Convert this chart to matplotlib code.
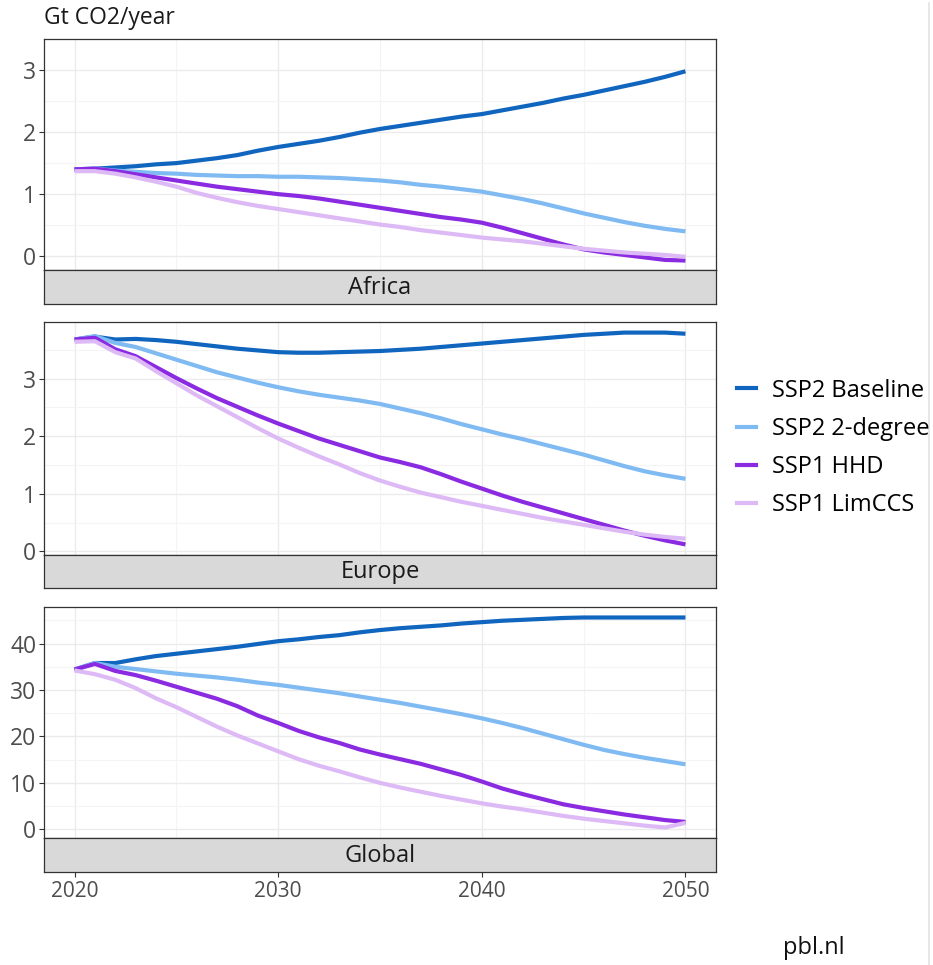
import matplotlib
matplotlib.use("Agg")
import matplotlib.pyplot as plt
from matplotlib.lines import Line2D
import numpy as np

plt.rcParams['font.family'] = ['Open Sans', 'DejaVu Sans']

years = list(range(2020, 2051))
regions = ["Africa", "Europe", "Global"]
scenarios = ["SSP2 Baseline", "SSP2 2-degree", "SSP1 HHD", "SSP1 LimCCS"]
colours = ["#1065BF", "#80BAF2", "#8A2BE2", "#DDBAF5"]

# Africa
africa_baseline = [1.40, 1.41, 1.43, 1.45, 1.48, 1.50, 1.54, 1.58, 1.63, 1.70, 1.76,
                   1.81, 1.86, 1.92, 1.99, 2.05, 2.10, 2.15, 2.20, 2.25, 2.29,
                   2.35, 2.41, 2.47, 2.54, 2.60, 2.67, 2.74, 2.81, 2.89, 2.98]
africa_2deg = [1.40, 1.41, 1.38, 1.36, 1.34, 1.33, 1.31, 1.30, 1.29, 1.29, 1.28,
               1.28, 1.27, 1.26, 1.24, 1.22, 1.19, 1.15, 1.12, 1.08, 1.04,
               0.98, 0.92, 0.85, 0.77, 0.69, 0.62, 0.55, 0.49, 0.44, 0.40]
africa_hhd = [1.40, 1.41, 1.37, 1.32, 1.27, 1.22, 1.17, 1.12, 1.08, 1.04, 1.00,
              0.97, 0.93, 0.88, 0.83, 0.78, 0.73, 0.68, 0.63, 0.59, 0.54,
              0.46, 0.37, 0.28, 0.19, 0.11, 0.06, 0.02, -0.02, -0.06, -0.07]
africa_limccs = [1.37, 1.37, 1.33, 1.27, 1.20, 1.12, 1.02, 0.94, 0.87, 0.81, 0.76,
                 0.71, 0.66, 0.61, 0.56, 0.51, 0.47, 0.42, 0.38, 0.34, 0.30,
                 0.27, 0.24, 0.20, 0.16, 0.12, 0.09, 0.06, 0.04, 0.02, -0.01]

# Europe
europe_baseline = [3.68, 3.73, 3.68, 3.69, 3.67, 3.64, 3.60, 3.56, 3.52, 3.49, 3.46,
                   3.45, 3.45, 3.46, 3.47, 3.48, 3.50, 3.52, 3.55, 3.58, 3.61,
                   3.64, 3.67, 3.70, 3.73, 3.76, 3.78, 3.80, 3.80, 3.80, 3.78]
europe_2deg = [3.68, 3.74, 3.62, 3.55, 3.44, 3.33, 3.22, 3.11, 3.02, 2.93, 2.85,
               2.78, 2.72, 2.67, 2.62, 2.56, 2.48, 2.40, 2.31, 2.21, 2.12,
               2.03, 1.95, 1.86, 1.77, 1.68, 1.58, 1.48, 1.39, 1.32, 1.26]
europe_hhd = [3.68, 3.71, 3.51, 3.39, 3.20, 3.01, 2.83, 2.66, 2.51, 2.36, 2.22,
              2.09, 1.96, 1.85, 1.74, 1.63, 1.55, 1.46, 1.34, 1.21, 1.09,
              0.97, 0.86, 0.76, 0.66, 0.56, 0.46, 0.36, 0.27, 0.19, 0.12]
europe_limccs = [3.64, 3.65, 3.46, 3.35, 3.13, 2.92, 2.71, 2.52, 2.33, 2.14, 1.96,
                 1.80, 1.65, 1.51, 1.36, 1.23, 1.12, 1.02, 0.94, 0.86, 0.79,
                 0.72, 0.65, 0.58, 0.52, 0.46, 0.40, 0.34, 0.29, 0.25, 0.22]

# Global
global_baseline = [34.4, 35.8, 35.8, 36.6, 37.3, 37.8, 38.3, 38.8, 39.3, 39.9, 40.5,
                   40.9, 41.4, 41.8, 42.4, 42.9, 43.3, 43.6, 43.9, 44.3, 44.6,
                   44.9, 45.1, 45.3, 45.5, 45.6, 45.6, 45.6, 45.6, 45.6, 45.6]
global_2deg = [34.4, 35.8, 35.0, 34.5, 34.0, 33.5, 33.1, 32.7, 32.2, 31.6, 31.1,
               30.5, 29.9, 29.3, 28.6, 27.9, 27.2, 26.4, 25.6, 24.8, 23.9,
               22.9, 21.8, 20.6, 19.4, 18.2, 17.1, 16.2, 15.4, 14.7, 14.0]
global_hhd = [34.4, 35.6, 34.1, 33.2, 32.0, 30.7, 29.4, 28.1, 26.5, 24.5, 22.9,
              21.2, 19.8, 18.6, 17.2, 16.1, 15.1, 14.1, 12.9, 11.7, 10.3,
              8.8, 7.6, 6.5, 5.4, 4.6, 3.9, 3.2, 2.6, 2.0, 1.6]
global_limccs = [34.2, 33.4, 32.2, 30.4, 28.2, 26.3, 24.2, 22.1, 20.2, 18.5, 16.8,
                 15.1, 13.7, 12.5, 11.2, 10.0, 9.0, 8.1, 7.2, 6.4, 5.6,
                 4.9, 4.3, 3.6, 2.9, 2.3, 1.8, 1.3, 0.8, 0.4, 1.4]

series = {
    "Africa": [africa_baseline, africa_2deg, africa_hhd, africa_limccs],
    "Europe": [europe_baseline, europe_2deg, europe_hhd, europe_limccs],
    "Global": [global_baseline, global_2deg, global_hhd, global_limccs],
}
y_major = {"Africa": [0, 1, 2, 3], "Europe": [0, 1, 2, 3], "Global": [0, 10, 20, 30, 40]}
y_minor = {"Africa": np.arange(0.5, 4, 1), "Europe": np.arange(0.5, 4, 1), "Global": np.arange(5, 50, 10)}
x_major = [2020, 2030, 2040, 2050]
x_minor = [2025, 2035, 2045]

W, H = 933, 965
fig = plt.figure(figsize=(W / 100, H / 100), dpi=100)


def box(l, t, r, b):
    return [l / W, 1 - b / H, (r - l) / W, (b - t) / H]


# pixel layout of the facets: (panel top, panel bottom, strip bottom)
rows = [(39, 270, 304), (322, 555, 588), (607, 838, 872)]
left, right = 44, 716
border = "#333333"

xlo, xhi = years[0] - 0.05 * (years[-1] - years[0]), years[-1] + 0.05 * (years[-1] - years[0])

for i, reg in enumerate(regions):
    top, bot, sbot = rows[i]
    ax = fig.add_axes(box(left, top, right, bot))
    strip = fig.add_axes(box(left, bot, right, sbot), sharex=ax)

    allv = np.concatenate(series[reg])
    pad = 0.05 * (allv.max() - allv.min())
    ax.set_ylim(allv.min() - pad, allv.max() + pad)
    ax.set_xlim(xlo, xhi)

    ax.set_yticks(y_major[reg])
    ax.set_yticks(y_minor[reg], minor=True)
    ax.set_xticks(x_major)
    ax.set_xticks(x_minor, minor=True)
    ax.grid(which="major", color="#EBEBEB", lw=1.0)
    ax.grid(which="minor", color="#F4F4F4", lw=0.8)
    ax.set_axisbelow(True)

    for vals, col in zip(series[reg], colours):
        ax.plot(years, vals, color=col, lw=3.0, solid_capstyle="butt")

    ax.tick_params(axis="y", which="major", length=3.5, width=0.8, color=border,
                   labelsize=16.5, labelcolor="#4D4D4D", pad=2)
    ax.tick_params(axis="y", which="minor", length=0)
    ax.tick_params(axis="x", which="both", length=0, labelbottom=False)
    for s in ax.spines.values():
        s.set_color(border)
        s.set_linewidth(0.9)

    strip.set_facecolor("#D9D9D9")
    strip.set_yticks([])
    for s in strip.spines.values():
        s.set_color(border)
        s.set_linewidth(0.9)
    strip.text(0.5, 0.47, reg, transform=strip.transAxes, ha="center", va="center",
               fontsize=17, color="#1A1A1A")
    if i == len(regions) - 1:
        strip.tick_params(axis="x", which="major", length=3.5, width=0.8, color=border,
                          labelsize=15, labelcolor="#4D4D4D", pad=3)
        strip.tick_params(axis="x", which="minor", length=0)
    else:
        strip.tick_params(axis="x", which="both", length=0, labelbottom=False)

fig.text(left / W, 1 - 18 / H, "Gt CO2/year", ha="left", va="center", fontsize=16.5, color="#1A1A1A")

handles = [Line2D([0], [0], color=c, lw=3) for c in colours]
fig.legend(handles, scenarios, loc="center left", bbox_to_anchor=(737 / W, 1 - 448 / H),
           frameon=False, fontsize=17, handlelength=0.82, handletextpad=0.68,
           labelspacing=0.6, borderpad=0, borderaxespad=0)

fig.text(814 / W, 1 - 948 / H, "pbl.nl", ha="center", va="center", fontsize=17, color="#111111")

fig.add_artist(Line2D([929 / W, 929 / W], [0, 1 - 3 / H], transform=fig.transFigure,
                      color="#E3E3E3", lw=1.2))

fig.savefig("out.png", dpi=100)
